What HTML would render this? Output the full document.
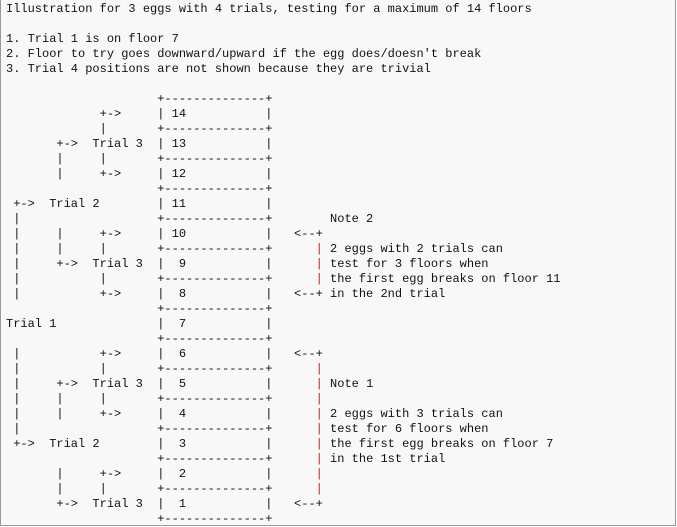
<!DOCTYPE html>
<html><head><meta charset="utf-8"><style>
html,body{margin:0;padding:0;background:#fff;}
.box{position:absolute;left:0;top:0;width:676px;height:526px;box-sizing:border-box;background:#f8f8f8;border-left:1px solid #999;border-right:1px solid #999;border-bottom:1px solid #999;}
pre{margin:0;position:absolute;left:5px;top:2px;font-family:"Liberation Mono",monospace;font-size:12px;line-height:15px;color:#111;}
r{color:#b22;}
</style></head><body><div class="box"><pre>Illustration for 3 eggs with 4 trials, testing for a maximum of 14 floors

1. Trial 1 is on floor 7
2. Floor to try goes downward/upward if the egg does/doesn't break
3. Trial 4 positions are not shown because they are trivial

                     +--------------+
             +->     | 14           |
             |       +--------------+
       +->  Trial 3  | 13           |
       |     |       +--------------+
       |     +->     | 12           |
                     +--------------+
 +->  Trial 2        | 11           |
 |                   +--------------+        Note 2
 |     |     +->     | 10           |   &lt;--+
 |     |     |       +--------------+      <r>|</r> 2 eggs with 2 trials can
 |     +->  Trial 3  |  9           |      <r>|</r> test for 3 floors when
 |           |       +--------------+      <r>|</r> the first egg breaks on floor 11
 |           +->     |  8           |   &lt;--+ in the 2nd trial
                     +--------------+
Trial 1              |  7           |
                     +--------------+
 |           +->     |  6           |   &lt;--+
 |           |       +--------------+      <r>|</r>
 |     +->  Trial 3  |  5           |      <r>|</r> Note 1
 |     |     |       +--------------+      <r>|</r>
 |     |     +->     |  4           |      <r>|</r> 2 eggs with 3 trials can
 |                   +--------------+      <r>|</r> test for 6 floors when
 +->  Trial 2        |  3           |      <r>|</r> the first egg breaks on floor 7
                     +--------------+      <r>|</r> in the 1st trial
       |     +->     |  2           |      <r>|</r>
       |     |       +--------------+      <r>|</r>
       +->  Trial 3  |  1           |   &lt;--+
                     +--------------+</pre></div></body></html>
